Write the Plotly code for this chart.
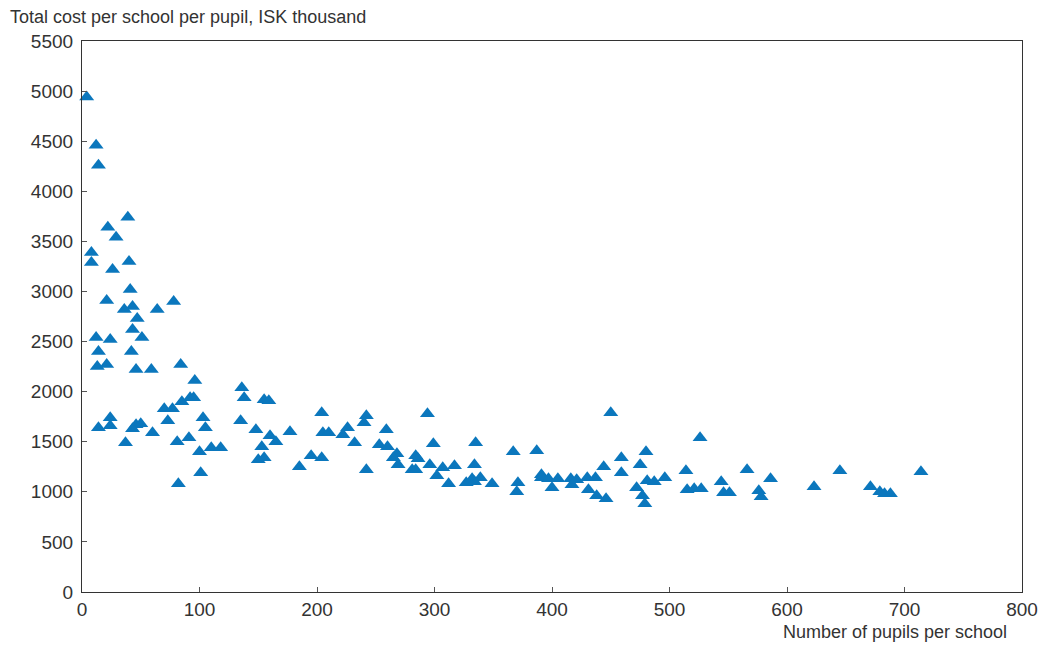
import plotly.graph_objects as go

pupils = [4, 12, 14, 39, 22, 29, 8, 8, 40, 26,
          41, 78, 21, 43, 36, 64, 47, 43, 51, 12, 24, 14, 42, 13, 21, 46, 59, 84, 96,
          136, 138, 92, 95, 85, 155, 159,
          70, 77, 73, 103, 105, 24, 24, 14, 43, 46, 50, 60, 37, 81, 91, 100, 110, 118, 101, 82,
          135, 148, 160, 165, 153, 150, 155, 177, 185, 195, 204, 204, 205, 210, 222, 226, 232, 240, 242, 242, 253,
          259, 260, 299, 335, 294, 268, 265, 269, 284, 286, 281, 284, 296, 302, 307, 317, 312, 334, 327, 332, 334, 339, 349,
          367, 387, 371, 370, 391, 391, 397, 400, 405, 416, 417, 421, 430, 431, 437, 438, 446, 444, 450, 459, 459,
          475, 480, 472, 477, 479, 481, 487, 496, 526, 514, 515, 521, 527, 544, 546, 551, 566, 576, 578, 586,
          623, 645, 671, 679, 683, 688, 714]
cost = [4940, 4460, 4260, 3740, 3640, 3540, 3390, 3290, 3300, 3220,
        3020, 2900, 2910, 2850, 2820, 2820, 2730, 2620, 2540, 2540, 2520, 2400, 2400, 2250, 2270, 2220, 2220, 2270, 2110,
        2040, 1940, 1940, 1940, 1900, 1920, 1910,
        1830, 1830, 1710, 1740, 1640, 1740, 1660, 1640, 1630, 1670, 1680, 1590, 1490, 1500, 1540, 1400, 1440, 1440, 1190, 1080,
        1710, 1620, 1560, 1500, 1450, 1320, 1340, 1600, 1250, 1360, 1340, 1790, 1590, 1590, 1570, 1640, 1490, 1690, 1760, 1220, 1470,
        1620, 1450, 1480, 1490, 1780, 1380, 1340, 1270, 1360, 1330, 1220, 1220, 1270, 1160, 1240, 1260, 1080, 1270, 1090, 1130, 1100, 1140, 1080,
        1400, 1410, 1090, 1000, 1170, 1140, 1130, 1040, 1130, 1130, 1070, 1120, 1140, 1020, 1140, 960, 930, 1250, 1790, 1340, 1190,
        1270, 1400, 1040, 960, 880, 1110, 1100, 1140, 1540, 1210, 1020, 1030, 1030, 1100, 990, 990, 1220, 1010, 950, 1130,
        1050, 1210, 1050, 1000, 980, 980, 1200]

x_ticks = list(range(0, 801, 100))
y_ticks = list(range(0, 5501, 500))

fig = go.Figure()
fig.add_trace(go.Scatter(
    x=pupils, y=cost, mode="markers",
    marker=dict(symbol="triangle-up", size=13, color="#0B77BD", line=dict(width=0)),
    showlegend=False, cliponaxis=False,
))

axis_font = dict(family="Liberation Sans, Arial, sans-serif", size=19, color="#333")
fig.update_layout(
    width=1050, height=645,
    margin=dict(l=82, r=26, t=41, b=53),
    paper_bgcolor="white", plot_bgcolor="white",
    font=dict(family="Liberation Sans, Arial, sans-serif", color="#333"),
    xaxis=dict(range=[0, 800], tickvals=x_ticks, ticks="inside", ticklen=5,
               tickcolor="#555", showline=True, linecolor="#333", linewidth=1.2, mirror=True,
               showgrid=False, zeroline=False, tickfont=axis_font, ticklabelstandoff=0),
    yaxis=dict(range=[0, 5500], tickvals=y_ticks, ticks="inside", ticklen=5,
               tickcolor="#555", showline=True, linecolor="#333", linewidth=1.2, mirror=True,
               showgrid=False, zeroline=False, tickfont=axis_font, ticklabelstandoff=4),
    annotations=[
        dict(text="Total cost per school per pupil, ISK thousand", xref="paper", yref="paper",
             x=-74/942, y=1 + 24/551, xanchor="left", yanchor="middle", showarrow=False,
             font=dict(size=18, color="#333")),
        dict(text="Number of pupils per school", xref="paper", yref="paper",
             x=(1011-82)/942, y=-40/551, xanchor="right", yanchor="middle", showarrow=False,
             font=dict(size=18, color="#333")),
    ],
)

fig.write_html("out.html")
